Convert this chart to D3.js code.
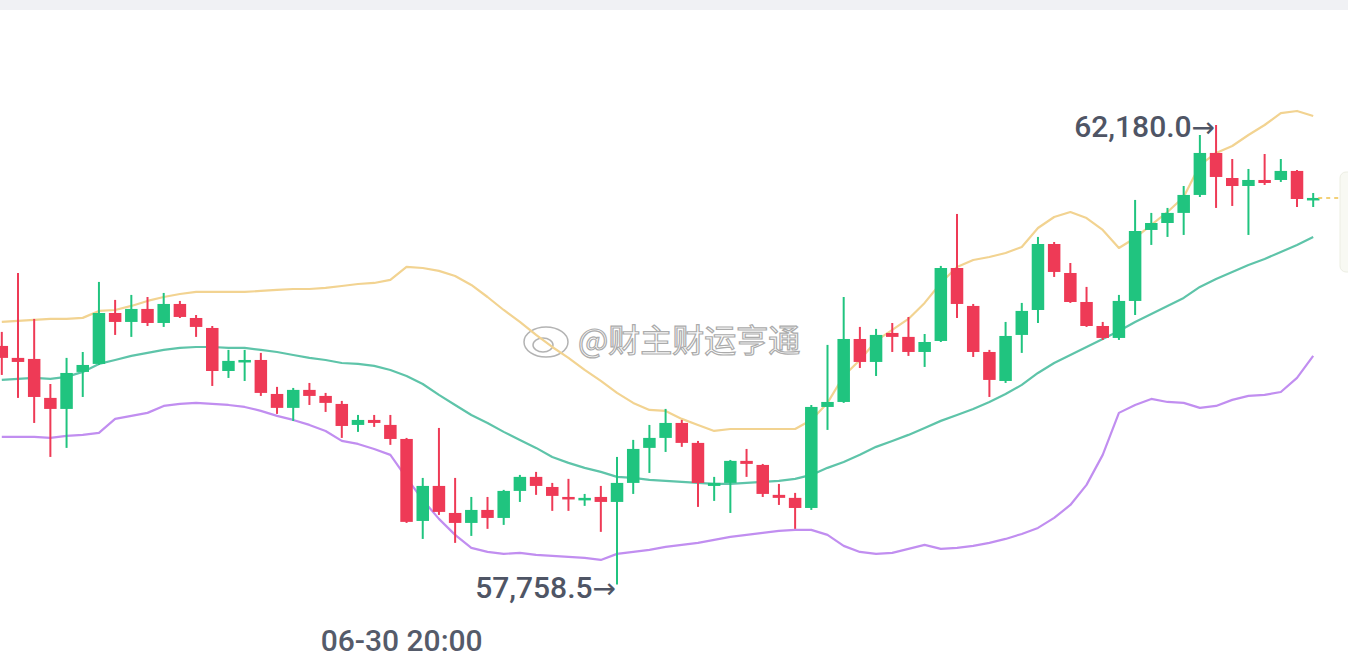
<!DOCTYPE html>
<html>
<head>
<meta charset="utf-8">
<script src="https://cdn.jsdelivr.net/npm/d3@7"></script>
<style>
  html, body { margin: 0; padding: 0; background: #fff; overflow: hidden; }
  svg { display: block; }
</style>
</head>
<body>
<script>
// candle data (one candle per hour)
const opens = [60054,59939,59929,59554,59448,59804,59881,60371,60285,60410,60275,60458,60323,60227,59813,59900,59919,59592,59458,59631,59573,59496,59294,59342,59294,59159,58370,58707,58447,58351,58476,58399,58659,58794,58697,58601,58573,58601,58553,58736,59073,59169,59313,59121,58707,58736,58948,58909,58621,58592,58495,59467,59515,60121,59900,60179,60141,59996,60102,60804,60439,59996,59717,60160,60400,61035,60756,60477,60246,60131,60487,61170,61237,61334,61507,61911,61670,61593,61651,61651,61738,61459];
const highs = [60189,60756,60314,59688,59939,59996,60670,60497,60545,60525,60564,60487,60352,60246,60016,60016,59987,59660,59650,59698,59602,59525,59390,59390,59390,59169,58784,59265,58784,58601,58601,58669,58813,58842,58736,58775,58630,58707,58986,59150,59294,59448,59342,59140,58794,58957,59063,58919,58726,58640,59486,60064,60525,60237,60218,60275,60333,60169,60824,61324,60458,60016,60285,60468,61103,61054,60852,60622,60285,60545,61459,61334,61382,61593,62084,62180,61853,61757,61901,61853,61747,61526];
const lows = [59775,59554,59313,58986,59073,59563,59871,60160,60141,60246,60237,60323,60141,59669,59746,59717,59573,59400,59332,59486,59419,59169,59227,59275,59102,58351,58197,58428,58159,58226,58294,58332,58553,58621,58467,58467,58515,58265,57758.5,58630,58832,59034,59083,58505,58563,58447,58794,58601,58524,58294,58476,59246,59506,59842,59765,59996,59958,59852,60092,60323,59948,59563,59698,59987,60275,60718,60468,60237,60112,60112,60352,61026,61103,61122,61487,61382,61401,61122,61603,61632,61391,61391];
const closes = [59939,59900,59563,59448,59794,59871,60371,60285,60410,60275,60458,60333,60237,59813,59910,59919,59602,59458,59631,59573,59506,59284,59342,59313,59159,58361,58707,58457,58351,58476,58399,58659,58794,58707,58611,58582,58592,58553,58736,59063,59169,59313,59121,58736,58736,58948,58919,58630,58592,58495,59467,59515,60121,59900,60160,60141,59996,60092,60804,60458,59996,59727,60150,60391,61035,60766,60477,60246,60131,60487,61160,61237,61334,61507,61911,61680,61593,61651,61622,61738,61468,61478];

// bollinger bands (up / mid / low)
const bollUp = [60285,60295,60304,60314,60314,60324,60391,60400,60439,60487,60525,60554,60574,60574,60574,60574,60583,60593,60602,60602,60612,60631,60650,60660,60689,60814,60804,60776,60727,60641,60525,60400,60285,60160,60044,59939,59823,59717,59602,59506,59438,59429,59352,59294,59236,59255,59255,59255,59255,59255,59342,59506,59765,59919,60102,60208,60314,60468,60660,60814,60881,60910,60948,61006,61189,61295,61343,61285,61170,60997,61093,61218,61343,61487,61795,61911,61978,62084,62180,62295,62315,62267];
const bollMid = [59727,59737,59746,59737,59756,59804,59881,59919,59958,59987,60016,60035,60044,60044,60035,60035,60016,59996,59967,59939,59919,59890,59881,59862,59823,59765,59688,59583,59486,59390,59313,59227,59150,59073,58986,58929,58881,58842,58794,58784,58765,58755,58746,58736,58726,58726,58736,58746,58755,58775,58813,58881,58938,59006,59083,59140,59198,59265,59333,59390,59448,59515,59592,59679,59794,59890,59967,60044,60121,60198,60285,60362,60439,60516,60622,60699,60766,60833,60891,60958,61026,61103];
const bollLow = [59179,59179,59179,59169,59188,59198,59217,59352,59381,59410,59477,59496,59506,59496,59486,59467,59429,59381,59342,59294,59236,59140,59111,59063,59006,58784,58573,58390,58236,58111,58072,58053,58063,58043,58034,58024,58015,57995,58053,58072,58092,58120,58140,58159,58188,58217,58236,58255,58274,58284,58284,58236,58130,58072,58053,58063,58101,58140,58101,58111,58130,58159,58197,58245,58303,58399,58524,58717,59006,59410,59486,59544,59515,59506,59458,59477,59535,59573,59583,59611,59746,59958];

const timeLabel = "06-30 20:00";
const timeLabelIndex = 24.7;
const watermark = "@财主财运亨通";

const width = 1348, height = 671;
const green = "#20c47f", red = "#ee3a56";

const candles = opens.map((o, i) => ({
  i, open: o, high: highs[i], low: lows[i], close: closes[i]
}));

const x = d3.scaleLinear().domain([0, candles.length - 1]).range([1.8, 1313.2]);
const y = d3.scaleLinear().domain([57758.5, 62180]).range([584.5, 125]);

const svg = d3.select("body").append("svg")
  .attr("width", width)
  .attr("height", height);

// top grey strip
svg.append("rect")
  .attr("x", 0).attr("y", 0)
  .attr("width", width).attr("height", 10)
  .attr("fill", "#f0f1f4");

// watermark
const wm = svg.append("g").attr("opacity", 0.75);
wm.append("ellipse")
  .attr("cx", 546).attr("cy", 342).attr("rx", 22).attr("ry", 15)
  .attr("fill", "#fff").attr("stroke", "#9a9a9a").attr("stroke-width", 1.5);
wm.append("ellipse")
  .attr("cx", 543).attr("cy", 345).attr("rx", 10).attr("ry", 7)
  .attr("fill", "none").attr("stroke", "#9a9a9a").attr("stroke-width", 1.5);
wm.append("text")
  .attr("x", 578).attr("y", 352)
  .attr("font-family", "'Noto Sans CJK SC', sans-serif")
  .attr("font-size", 32)
  .attr("fill", "#fff")
  .attr("stroke", "#8f8f8f")
  .attr("stroke-width", 1.2)
  .text(watermark);

// bands
const line = d3.line().x((d, i) => x(i)).y(d => y(d));
const bands = [
  {values: bollUp, color: "#f2d391"},
  {values: bollMid, color: "#5ec4a9"},
  {values: bollLow, color: "#c18ef0"}
];
svg.append("g")
  .selectAll("path")
  .data(bands)
  .join("path")
  .attr("fill", "none")
  .attr("stroke", d => d.color)
  .attr("stroke-width", 2.2)
  .attr("stroke-linejoin", "round")
  .attr("d", d => line(d.values));

// candles
const bodyW = 12.5;
const g = svg.append("g")
  .selectAll("g")
  .data(candles)
  .join("g")
  .attr("fill", d => d.close >= d.open ? green : red)
  .attr("stroke", d => d.close >= d.open ? green : red);

g.append("line")
  .attr("x1", d => x(d.i)).attr("x2", d => x(d.i))
  .attr("y1", d => y(d.high)).attr("y2", d => y(d.low))
  .attr("stroke-width", 2);

g.append("rect")
  .attr("stroke", "none")
  .attr("x", d => x(d.i) - bodyW / 2)
  .attr("width", bodyW)
  .attr("y", d => y(Math.max(d.open, d.close)))
  .attr("height", d => Math.max(2.5, Math.abs(y(d.open) - y(d.close))));

// last price dashed line
const last = candles[candles.length - 1];
svg.append("line")
  .attr("x1", x(last.i) + 5).attr("x2", 1340)
  .attr("y1", y(last.close)).attr("y2", y(last.close))
  .attr("stroke", "#f0c24c")
  .attr("stroke-width", 1.5)
  .attr("stroke-dasharray", "4,4");

// small panel on the right edge
svg.append("rect")
  .attr("x", 1340).attr("y", 172)
  .attr("width", 30).attr("height", 100)
  .attr("rx", 6)
  .attr("fill", "#f8f9f3")
  .attr("stroke", "#eceee3");

// max / min labels
const maxC = candles.reduce((a, b) => b.high > a.high ? b : a);
const minC = candles.reduce((a, b) => b.low < a.low ? b : a);
const fmt = d3.format(",.1f");
const labelFont = "Roboto, 'Noto Sans', sans-serif";

function priceLabel(c, value, dy) {
  const t = svg.append("text")
    .attr("x", x(c.i) - 1)
    .attr("y", y(value) + dy)
    .attr("text-anchor", "end")
    .attr("font-family", labelFont)
    .attr("font-size", 30)
    .attr("font-weight", 500)
    .attr("fill", "#4f5565");
  t.append("tspan").text(fmt(value));
  t.append("tspan")
    .attr("font-family", "'DejaVu Sans', sans-serif")
    .attr("font-weight", 400)
    .attr("font-size", 28)
    .text("→");
}
priceLabel(maxC, maxC.high, 12);
priceLabel(minC, minC.low, 13);

// time axis label
svg.append("text")
  .attr("x", x(timeLabelIndex))
  .attr("y", 651)
  .attr("text-anchor", "middle")
  .attr("font-family", labelFont)
  .attr("font-size", 30)
  .attr("font-weight", 500)
  .attr("fill", "#555b6a")
  .text(timeLabel);
</script>
</body>
</html>
